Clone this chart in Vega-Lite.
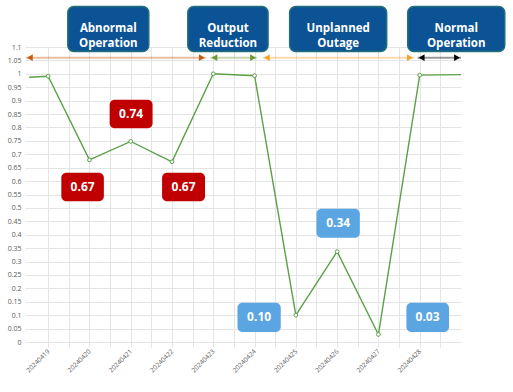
{
  "$schema": "https://vega.github.io/schema/vega-lite/v6.json",
  "width": 436,
  "height": 295,
  "autosize": {"type": "none"},
  "padding": {"left": 25, "top": 47, "right": 52, "bottom": 50},
  "background": "white",
  "config": {
    "view": {"stroke": null},
    "font": "Open Sans",
    "axis": {"gridColor": "#e4e4e4", "gridWidth": 1, "domain": false, "labelColor": "#595959", "labelFont": "Open Sans"},
    "axisX": {"labelAngle": -45, "labelAlign": "right", "labelBaseline": "middle", "labelFontSize": 6.5, "labelPadding": 3, "ticks": true, "tickColor": "#e4e4e4", "tickSize": 5, "labelOverlap": false, "labelBound": false},
    "axisY": {"ticks": false, "labelFontSize": 7, "labelPadding": 4, "labelOverlap": false}
  },
  "datasets": {
    "series": [
      {"day": 18.54, "value": 0.987, "marker": false},
      {"day": 19, "value": 0.991, "marker": true},
      {"day": 20, "value": 0.679, "marker": true},
      {"day": 21, "value": 0.748, "marker": true},
      {"day": 22, "value": 0.672, "marker": true},
      {"day": 23, "value": 1.0, "marker": true},
      {"day": 24, "value": 0.993, "marker": true},
      {"day": 25, "value": 0.1, "marker": true},
      {"day": 26, "value": 0.337, "marker": true},
      {"day": 27, "value": 0.028, "marker": true},
      {"day": 28, "value": 0.995, "marker": true},
      {"day": 29, "value": 0.997, "marker": false}
    ],
    "headers": [
      {"label": "Abnormal\nOperation", "x1": 19.477, "x2": 21.438, "xc": 20.458, "y1": 1.083, "y2": 1.251, "yc": 1.167},
      {"label": "Output\nReduction", "x1": 22.383, "x2": 24.327, "xc": 23.355, "y1": 1.083, "y2": 1.251, "yc": 1.167},
      {"label": "Unplanned\nOutage", "x1": 24.85, "x2": 27.2, "xc": 26.025, "y1": 1.083, "y2": 1.251, "yc": 1.167},
      {"label": "Normal\nOperation", "x1": 27.71, "x2": 30.06, "xc": 28.885, "y1": 1.083, "y2": 1.251, "yc": 1.167}
    ],
    "values": [
      {"label": "0.74", "kind": "low", "x1": 20.49, "x2": 21.53, "xc": 21.01, "y1": 0.797, "y2": 0.903, "yc": 0.85},
      {"label": "0.67", "kind": "low", "x1": 19.32, "x2": 20.35, "xc": 19.835, "y1": 0.525, "y2": 0.631, "yc": 0.578},
      {"label": "0.67", "kind": "low", "x1": 21.76, "x2": 22.8, "xc": 22.28, "y1": 0.525, "y2": 0.631, "yc": 0.578},
      {"label": "0.34", "kind": "outage", "x1": 25.5, "x2": 26.55, "xc": 26.025, "y1": 0.389, "y2": 0.497, "yc": 0.443},
      {"label": "0.10", "kind": "outage", "x1": 23.586, "x2": 24.634, "xc": 24.11, "y1": 0.037, "y2": 0.146, "yc": 0.0915},
      {"label": "0.03", "kind": "outage", "x1": 27.678, "x2": 28.709, "xc": 28.19, "y1": 0.037, "y2": 0.146, "yc": 0.0915}
    ],
    "arrows": [
      {"phase": "Abnormal Operation", "x1": 18.46, "x2": 22.82, "y": 1.06},
      {"phase": "Output Reduction", "x1": 22.93, "x2": 24.06, "y": 1.06},
      {"phase": "Unplanned Outage", "x1": 24.2, "x2": 27.86, "y": 1.06},
      {"phase": "Normal Operation", "x1": 27.95, "x2": 29.0, "y": 1.06}
    ]
  },
  "layer": [
    {
      "data": {"name": "series"},
      "mark": {"type": "line", "color": "#5ba048", "strokeWidth": 1.4},
      "encoding": {
        "x": {"field": "day", "type": "quantitative", "scale": {"domain": [18.44, 29], "nice": false, "zero": false},
          "axis": {"title": null, "values": [19, 19.5, 20, 20.5, 21, 21.5, 22, 22.5, 23, 23.5, 24, 24.5, 25, 25.5, 26, 26.5, 27, 27.5, 28, 28.5], "labelExpr": "datum.value % 1 == 0 ? '202404' + datum.value : ''"}},
        "y": {"field": "value", "type": "quantitative", "scale": {"domain": [0, 1.1], "nice": false},
          "axis": {"title": null, "values": [0, 0.05, 0.1, 0.15, 0.2, 0.25, 0.3, 0.35, 0.4, 0.45, 0.5, 0.55, 0.6, 0.65, 0.7, 0.75, 0.8, 0.85, 0.9, 0.95, 1, 1.05, 1.1], "format": ".2~f"}}
      }
    },
    {
      "data": {"name": "series"},
      "transform": [{"filter": "datum.marker"}],
      "mark": {"type": "point", "filled": true, "fill": "white", "stroke": "#5ba048", "strokeWidth": 1, "size": 14, "opacity": 1},
      "encoding": {
        "x": {"field": "day", "type": "quantitative",
          "axis": {"title": null, "values": [19, 19.5, 20, 20.5, 21, 21.5, 22, 22.5, 23, 23.5, 24, 24.5, 25, 25.5, 26, 26.5, 27, 27.5, 28, 28.5], "labelExpr": "datum.value % 1 == 0 ? '202404' + datum.value : ''"}},
        "y": {"field": "value", "type": "quantitative",
          "axis": {"title": null, "values": [0, 0.05, 0.1, 0.15, 0.2, 0.25, 0.3, 0.35, 0.4, 0.45, 0.5, 0.55, 0.6, 0.65, 0.7, 0.75, 0.8, 0.85, 0.9, 0.95, 1, 1.05, 1.1], "format": ".2~f"}}
      }
    },
    {
      "data": {"name": "arrows"},
      "mark": {"type": "rule", "strokeWidth": 2.2, "opacity": 0.4},
      "encoding": {
        "x": {"field": "x1", "type": "quantitative",
          "axis": {"title": null, "values": [19, 19.5, 20, 20.5, 21, 21.5, 22, 22.5, 23, 23.5, 24, 24.5, 25, 25.5, 26, 26.5, 27, 27.5, 28, 28.5], "labelExpr": "datum.value % 1 == 0 ? '202404' + datum.value : ''"}},
        "x2": {"field": "x2"},
        "y": {"field": "y", "type": "quantitative",
          "axis": {"title": null, "values": [0, 0.05, 0.1, 0.15, 0.2, 0.25, 0.3, 0.35, 0.4, 0.45, 0.5, 0.55, 0.6, 0.65, 0.7, 0.75, 0.8, 0.85, 0.9, 0.95, 1, 1.05, 1.1], "format": ".2~f"}},
        "color": {"field": "phase", "type": "nominal", "legend": null,
          "scale": {"domain": ["Abnormal Operation", "Output Reduction", "Unplanned Outage", "Normal Operation"], "range": ["#c55a11", "#6b9a35", "#f2a32e", "#000000"]}}
      }
    },
    {
      "data": {"name": "arrows"},
      "mark": {"type": "point", "shape": "triangle-left", "filled": true, "size": 45, "opacity": 1, "xOffset": 4},
      "encoding": {
        "x": {"field": "x1", "type": "quantitative",
          "axis": {"title": null, "values": [19, 19.5, 20, 20.5, 21, 21.5, 22, 22.5, 23, 23.5, 24, 24.5, 25, 25.5, 26, 26.5, 27, 27.5, 28, 28.5], "labelExpr": "datum.value % 1 == 0 ? '202404' + datum.value : ''"}},
        "y": {"field": "y", "type": "quantitative",
          "axis": {"title": null, "values": [0, 0.05, 0.1, 0.15, 0.2, 0.25, 0.3, 0.35, 0.4, 0.45, 0.5, 0.55, 0.6, 0.65, 0.7, 0.75, 0.8, 0.85, 0.9, 0.95, 1, 1.05, 1.1], "format": ".2~f"}},
        "color": {"field": "phase", "type": "nominal", "legend": null}
      }
    },
    {
      "data": {"name": "arrows"},
      "mark": {"type": "point", "shape": "triangle-right", "filled": true, "size": 45, "opacity": 1, "xOffset": -4},
      "encoding": {
        "x": {"field": "x2", "type": "quantitative",
          "axis": {"title": null, "values": [19, 19.5, 20, 20.5, 21, 21.5, 22, 22.5, 23, 23.5, 24, 24.5, 25, 25.5, 26, 26.5, 27, 27.5, 28, 28.5], "labelExpr": "datum.value % 1 == 0 ? '202404' + datum.value : ''"}},
        "y": {"field": "y", "type": "quantitative",
          "axis": {"title": null, "values": [0, 0.05, 0.1, 0.15, 0.2, 0.25, 0.3, 0.35, 0.4, 0.45, 0.5, 0.55, 0.6, 0.65, 0.7, 0.75, 0.8, 0.85, 0.9, 0.95, 1, 1.05, 1.1], "format": ".2~f"}},
        "color": {"field": "phase", "type": "nominal", "legend": null}
      }
    },
    {
      "data": {"name": "headers"},
      "mark": {"type": "rect", "fill": "#0b5394", "stroke": "#23707a", "strokeWidth": 1.5, "cornerRadius": 6},
      "encoding": {
        "x": {"field": "x1", "type": "quantitative",
          "axis": {"title": null, "values": [19, 19.5, 20, 20.5, 21, 21.5, 22, 22.5, 23, 23.5, 24, 24.5, 25, 25.5, 26, 26.5, 27, 27.5, 28, 28.5], "labelExpr": "datum.value % 1 == 0 ? '202404' + datum.value : ''"}},
        "x2": {"field": "x2"},
        "y": {"field": "y1", "type": "quantitative",
          "axis": {"title": null, "values": [0, 0.05, 0.1, 0.15, 0.2, 0.25, 0.3, 0.35, 0.4, 0.45, 0.5, 0.55, 0.6, 0.65, 0.7, 0.75, 0.8, 0.85, 0.9, 0.95, 1, 1.05, 1.1], "format": ".2~f"}},
        "y2": {"field": "y2"}
      }
    },
    {
      "data": {"name": "headers"},
      "mark": {"type": "text", "color": "white", "fontWeight": "bold", "fontSize": 11.5, "lineBreak": "\n", "lineHeight": 15, "align": "center", "baseline": "middle"},
      "encoding": {
        "x": {"field": "xc", "type": "quantitative",
          "axis": {"title": null, "values": [19, 19.5, 20, 20.5, 21, 21.5, 22, 22.5, 23, 23.5, 24, 24.5, 25, 25.5, 26, 26.5, 27, 27.5, 28, 28.5], "labelExpr": "datum.value % 1 == 0 ? '202404' + datum.value : ''"}},
        "y": {"field": "yc", "type": "quantitative",
          "axis": {"title": null, "values": [0, 0.05, 0.1, 0.15, 0.2, 0.25, 0.3, 0.35, 0.4, 0.45, 0.5, 0.55, 0.6, 0.65, 0.7, 0.75, 0.8, 0.85, 0.9, 0.95, 1, 1.05, 1.1], "format": ".2~f"}},
        "text": {"field": "label"}
      }
    },
    {
      "data": {"name": "values"},
      "mark": {"type": "rect", "cornerRadius": 5},
      "encoding": {
        "x": {"field": "x1", "type": "quantitative",
          "axis": {"title": null, "values": [19, 19.5, 20, 20.5, 21, 21.5, 22, 22.5, 23, 23.5, 24, 24.5, 25, 25.5, 26, 26.5, 27, 27.5, 28, 28.5], "labelExpr": "datum.value % 1 == 0 ? '202404' + datum.value : ''"}},
        "x2": {"field": "x2"},
        "y": {"field": "y1", "type": "quantitative",
          "axis": {"title": null, "values": [0, 0.05, 0.1, 0.15, 0.2, 0.25, 0.3, 0.35, 0.4, 0.45, 0.5, 0.55, 0.6, 0.65, 0.7, 0.75, 0.8, 0.85, 0.9, 0.95, 1, 1.05, 1.1], "format": ".2~f"}},
        "y2": {"field": "y2"},
        "fill": {"field": "kind", "type": "nominal", "legend": null,
          "scale": {"domain": ["low", "outage"], "range": ["#c00000", "#5aa5e2"]}}
      }
    },
    {
      "data": {"name": "values"},
      "mark": {"type": "text", "color": "white", "fontWeight": "bold", "fontSize": 12, "align": "center", "baseline": "middle"},
      "encoding": {
        "x": {"field": "xc", "type": "quantitative",
          "axis": {"title": null, "values": [19, 19.5, 20, 20.5, 21, 21.5, 22, 22.5, 23, 23.5, 24, 24.5, 25, 25.5, 26, 26.5, 27, 27.5, 28, 28.5], "labelExpr": "datum.value % 1 == 0 ? '202404' + datum.value : ''"}},
        "y": {"field": "yc", "type": "quantitative",
          "axis": {"title": null, "values": [0, 0.05, 0.1, 0.15, 0.2, 0.25, 0.3, 0.35, 0.4, 0.45, 0.5, 0.55, 0.6, 0.65, 0.7, 0.75, 0.8, 0.85, 0.9, 0.95, 1, 1.05, 1.1], "format": ".2~f"}},
        "text": {"field": "label"}
      }
    }
  ]
}
